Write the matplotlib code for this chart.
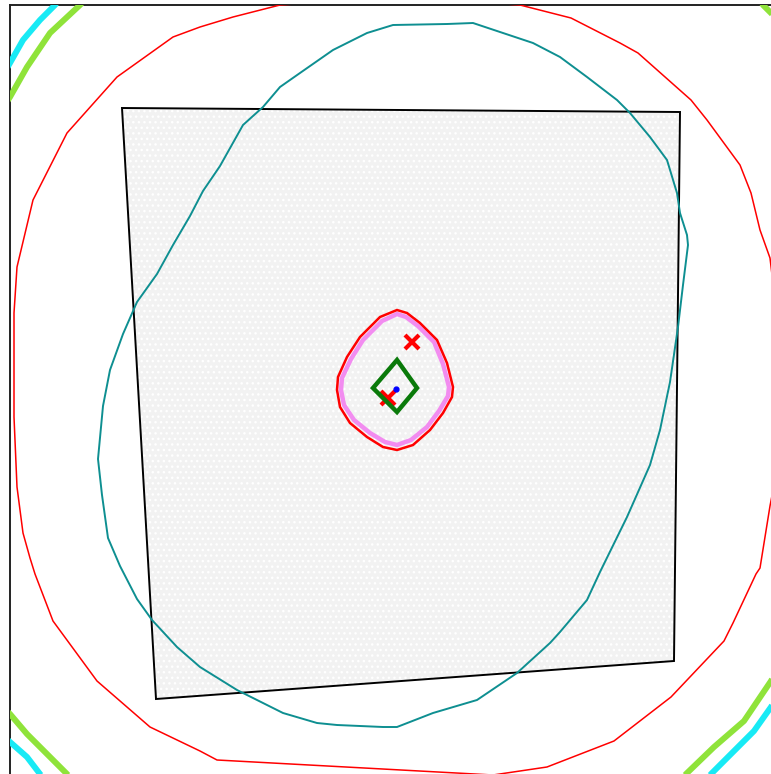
import matplotlib
matplotlib.use("Agg")
import numpy as np
import matplotlib.pyplot as plt
from matplotlib.patches import Polygon

# all values are in picture coordinates (x to the right, y downwards)
area_x = [122, 680, 674, 156]
area_y = [108, 112, 661, 699]

red_ring_x = [400, 520, 571, 620, 638, 691, 707, 740, 751, 760, 770, 775, 775, 770,
              760, 756, 733, 724, 671, 614, 547, 493, 383, 273, 217, 200, 150, 97,
              53, 35, 30, 23, 17, 14, 14, 17, 33, 67, 117, 173, 200, 233, 280]
red_ring_y = [-3, 5, 18, 43, 53, 100, 120, 165, 193, 230, 258, 300, 480, 506,
              568, 574, 623, 641, 697, 741, 767, 775, 782, 775, 760, 751, 727, 681,
              621, 574, 558, 533, 487, 417, 313, 267, 200, 133, 77, 37, 27, 17, 5]

teal_x = [393, 447, 473, 500, 533, 560, 587, 617, 630, 650, 667, 677, 680, 687,
          688, 683, 678, 670, 660, 650, 627, 600, 587, 560, 550, 517, 477, 433,
          397, 383, 337, 317, 283, 237, 200, 177, 152, 137, 120, 108, 102, 98,
          103, 110, 123, 137, 157, 173, 190, 203, 220, 243, 263, 280, 300, 333, 367]
teal_y = [25, 24, 23, 32, 43, 57, 77, 100, 113, 137, 160, 193, 213, 235,
          245, 285, 327, 382, 430, 465, 517, 572, 600, 632, 643, 673, 700, 713,
          727, 727, 725, 723, 713, 690, 667, 647, 620, 599, 566, 538, 495, 459,
          406, 370, 334, 302, 274, 245, 216, 191, 166, 125, 107, 87, 73, 50, 33]

egg_x = [397, 380, 360, 347, 338, 337, 340, 350, 367, 383, 397, 413, 430, 443,
         452, 453, 447, 437, 420, 407]
egg_y = [310, 317, 337, 357, 377, 390, 407, 423, 437, 447, 450, 445, 430, 413,
         397, 387, 363, 340, 323, 313]

pink_x = [397, 382, 363, 351, 342, 341, 344, 354, 370, 385, 397, 411, 427, 439,
          448, 449, 443, 434, 418, 406]
pink_y = [314, 321, 340, 359, 378, 390, 405, 420, 433, 442, 445, 440, 427, 411,
          396, 387, 364, 342, 326, 317]

diamond_x = [397, 417, 397, 373]
diamond_y = [360, 388, 412, 388]

cross_x = [412, 388]
cross_y = [342, 398]
centre_x = [396]
centre_y = [389]

# outer rings, only their corner arcs fall inside the frame
green_arcs = [
    ([0, 10, 27, 50, 80, 90], [112, 97, 67, 33, 5, -6]),
    ([758, 763, 772, 780], [-4, 5, 14, 24]),
    ([0, 10, 27, 50, 67, 75], [704, 714, 734, 757, 774, 784]),
    ([678, 686, 714, 744, 771, 778], [784, 774, 747, 721, 681, 668]),
]
cyan_arcs = [
    ([0, 10, 23, 40, 55, 62], [80, 63, 40, 20, 5, -4]),
    ([0, 10, 27, 40, 48], [733, 742, 757, 774, 784]),
    ([703, 711, 734, 754, 771, 778], [784, 774, 751, 731, 707, 695]),
]

fig = plt.figure(figsize=(7.71, 7.74), dpi=100)
ax = fig.add_axes([10 / 771, 0, 761 / 771, 1 - 5 / 774])
ax.set_xlim(10, 771)
ax.set_ylim(774, 5)
ax.set_xticks([])
ax.set_yticks([])
for side in ["right", "bottom"]:
    ax.spines[side].set_visible(False)
for side in ["left", "top"]:
    ax.spines[side].set_linewidth(1.4)
    ax.spines[side].set_color("#222222")

ax.add_patch(Polygon(np.column_stack([area_x, area_y]), closed=True,
                     facecolor="#f2f2f2", edgecolor="white", hatch="...",
                     linewidth=0, zorder=1))
ax.add_patch(Polygon(np.column_stack([area_x, area_y]), closed=True,
                     fill=False, edgecolor="black", linewidth=1.4, zorder=2))

ax.add_patch(Polygon(np.column_stack([red_ring_x, red_ring_y]), closed=True,
                     fill=False, edgecolor="red", linewidth=1.1, zorder=3))
ax.add_patch(Polygon(np.column_stack([teal_x, teal_y]), closed=True,
                     fill=False, edgecolor="#0e8f91", linewidth=1.4, zorder=3))

for xs, ys in green_arcs:
    ax.plot(xs, ys, color="#8fe33a", linewidth=4.3, solid_capstyle="butt", zorder=4)
for xs, ys in cyan_arcs:
    ax.plot(xs, ys, color="#18eaf5", linewidth=4.3, solid_capstyle="butt", zorder=4)

ax.add_patch(Polygon(np.column_stack([pink_x, pink_y]), closed=True,
                     fill=False, edgecolor="#f28cf0", linewidth=3.2, zorder=5))
ax.add_patch(Polygon(np.column_stack([egg_x, egg_y]), closed=True,
                     fill=False, edgecolor="red", linewidth=1.8, zorder=6))

ax.plot(cross_x, cross_y, linestyle="none", marker="x", markersize=10,
        markeredgewidth=3, color="red", zorder=7)
ax.add_patch(Polygon(np.column_stack([diamond_x, diamond_y]), closed=True,
                     fill=False, edgecolor="#0a7a0a", linewidth=3.2, zorder=8))
ax.plot(centre_x, centre_y, linestyle="none", marker="o", markersize=3.5,
        color="blue", zorder=9)

fig.savefig("out.png", dpi=100)
